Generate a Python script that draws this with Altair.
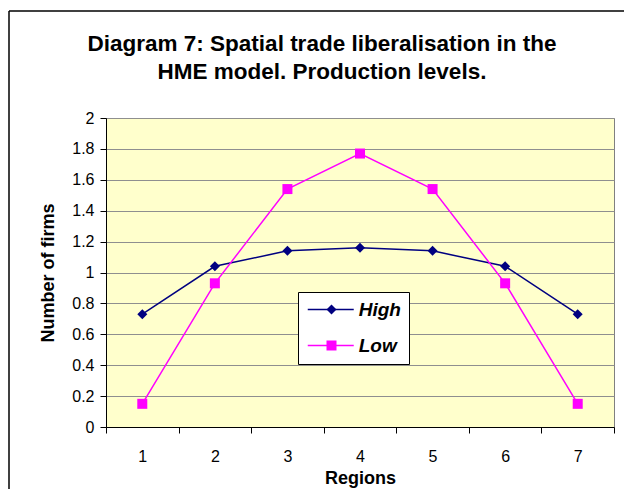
import altair as alt
import pandas as pd

regions = ["1", "2", "3", "4", "5", "6", "7"]
high = [0.73, 1.04, 1.14, 1.16, 1.14, 1.04, 0.73]
low = [0.15, 0.93, 1.54, 1.77, 1.54, 0.93, 0.15]
series_names = ["High", "Low"]
series_colors = ["#000080", "#FF00FF"]
series_shapes = ["diamond", "square"]
y_ticks = [0, 0.2, 0.4, 0.6, 0.8, 1, 1.2, 1.4, 1.6, 1.8, 2]
title_lines = ["Diagram 7: Spatial trade liberalisation in the", "HME model. Production levels."]

rows = []
for r, h, l in zip(regions, high, low):
    rows.append({"Region": r, "Series": "High", "Value": h})
    rows.append({"Region": r, "Series": "Low", "Value": l})
df = pd.DataFrame(rows)

FONT = "Liberation Sans"
W, H = 508, 309

x_enc = alt.X(
    "Region:O",
    scale=alt.Scale(type="band", domain=regions, paddingInner=0, paddingOuter=0),
    axis=alt.Axis(
        title="Regions", labelAngle=0, tickBand="extent", grid=False,
        domainColor="black", tickColor="black", tickSize=6,
        labelFont=FONT, labelFontSize=16, labelColor="black", labelPadding=15,
        titleFont=FONT, titleFontSize=18, titleFontWeight="bold", titleColor="black",
        titlePadding=5,
    ),
)
y_enc = alt.Y(
    "Value:Q",
    scale=alt.Scale(domain=[0, 2], nice=False, zero=True),
    axis=alt.Axis(
        title="Number of firms", values=y_ticks, format="~g",
        grid=True, gridColor="#8f8f8f", gridWidth=1,
        domainColor="black", tickColor="black", tickSize=6,
        labelFont=FONT, labelFontSize=16, labelColor="black", labelPadding=6,
        titleFont=FONT, titleFontSize=18, titleFontWeight="bold", titleColor="black",
        titlePadding=14,
    ),
)

LEG_X, LEG_Y, LEG_PAD = 192, 174, 8
leg_common = dict(
    title=None, orient="none", legendX=LEG_X, legendY=LEG_Y, padding=LEG_PAD,
    labelFont=FONT, labelFontSize=19, labelFontWeight="bold",
    labelFontStyle="italic", rowPadding=16,
)

base = alt.Chart(df)

lines = base.mark_line(strokeWidth=1.5).encode(
    x=x_enc,
    y=y_enc,
    color=alt.Color(
        "Series:N",
        scale=alt.Scale(domain=series_names, range=series_colors),
        legend=alt.Legend(
            symbolType="M-4.6,0H4.6", symbolSize=100, symbolStrokeWidth=1.5,
            symbolOffset=15.25, labelOffset=18.5, labelColor="black",
            strokeColor="black", fillColor="white",
            **leg_common,
        ),
    ),
)

leg_points = dict(
    symbolOffset=16, labelOffset=18.5, labelOpacity=0, symbolOpacity=1,
    **leg_common,
)
points = base.mark_point(filled=True, opacity=1, size=100).encode(
    x=x_enc,
    y=y_enc,
    color=alt.Color(
        "Series:N",
        scale=alt.Scale(domain=series_names, range=series_colors),
        legend=alt.Legend(**leg_points),
    ),
    shape=alt.Shape(
        "Series:N",
        scale=alt.Scale(domain=series_names, range=series_shapes),
        legend=alt.Legend(**leg_points),
    ),
)

frame_df = pd.DataFrame({"k": [0]})
left_border = alt.Chart(frame_df).mark_rule(color="black", strokeWidth=1.5).encode(
    x=alt.value(-97), y=alt.value(-107), y2=alt.value(H + 62)
)
top_border = alt.Chart(frame_df).mark_rule(color="black", strokeWidth=1.5).encode(
    x=alt.value(-97), x2=alt.value(W + 20), y=alt.value(-107)
)

chart = (
    alt.layer(lines, points, left_border, top_border)
    .resolve_scale(color="independent", shape="independent")
    .properties(
        width=W,
        height=H,
        title=alt.Title(
            title_lines, font=FONT, fontSize=22.5, fontWeight="bold", color="black",
            anchor="middle", frame="group", dx=-38, offset=-73, lineHeight=28,
        ),
        autosize=alt.AutoSizeParams(type="none"),
        padding={"left": 98, "top": 110, "right": 10, "bottom": 62},
        background="white",
    )
    .configure_view(stroke="#808080", strokeWidth=1, fill="#FFFFCC")
)

chart.save("out.html", embed_options={"renderer": "svg", "actions": False})
